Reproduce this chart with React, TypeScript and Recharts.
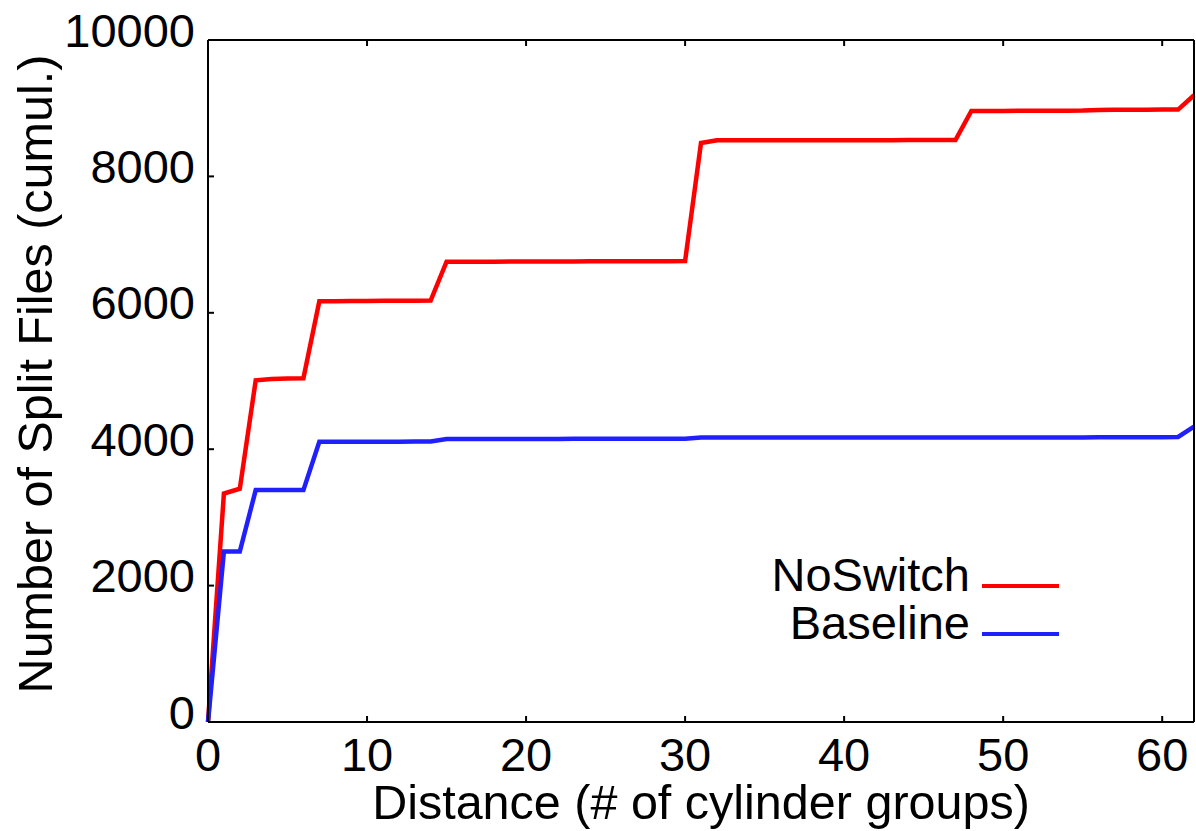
import React from "react";
import {
  LineChart,
  Line,
  XAxis,
  YAxis,
  ReferenceLine,
} from "recharts";

// distance in cylinder groups, 0..62
const distance = [
  0, 1, 2, 3, 4, 5, 6, 7, 8, 9, 10, 11, 12, 13, 14, 15, 16, 17, 18, 19, 20,
  21, 22, 23, 24, 25, 26, 27, 28, 29, 30, 31, 32, 33, 34, 35, 36, 37, 38, 39,
  40, 41, 42, 43, 44, 45, 46, 47, 48, 49, 50, 51, 52, 53, 54, 55, 56, 57, 58,
  59, 60, 61, 62,
];

const noSwitch = [
  0, 3350, 3420, 5010, 5030, 5035, 5040, 6170, 6170, 6172, 6174, 6175, 6176,
  6178, 6180, 6750, 6750, 6750, 6750, 6752, 6752, 6752, 6753, 6754, 6755,
  6755, 6756, 6756, 6757, 6757, 6758, 8490, 8530, 8530, 8530, 8530, 8530,
  8530, 8530, 8530, 8530, 8530, 8531, 8531, 8532, 8532, 8533, 8533, 8960,
  8960, 8960, 8962, 8962, 8963, 8964, 8965, 8975, 8976, 8977, 8978, 8980,
  8980, 9190,
];

const baseline = [
  0, 2500, 2500, 3400, 3400, 3400, 3400, 4110, 4110, 4110, 4110, 4110, 4110,
  4112, 4112, 4150, 4150, 4150, 4150, 4150, 4151, 4151, 4151, 4152, 4152,
  4152, 4153, 4153, 4153, 4154, 4154, 4170, 4170, 4170, 4170, 4170, 4170,
  4170, 4170, 4170, 4170, 4170, 4170, 4170, 4171, 4171, 4171, 4171, 4172,
  4172, 4172, 4172, 4172, 4173, 4173, 4173, 4174, 4174, 4174, 4175, 4175,
  4180, 4330,
];

const xTicks = [0, 10, 20, 30, 40, 50, 60];
const yTicks = [0, 2000, 4000, 6000, 8000, 10000];

const series = [
  { key: "noSwitch", name: "NoSwitch", color: "#ff0000" },
  { key: "baseline", name: "Baseline", color: "#2020ff" },
];

const data = distance.map((x, i) => ({
  x,
  noSwitch: noSwitch[i],
  baseline: baseline[i],
}));

const font = "'Liberation Sans', Arial, sans-serif";
const fs = 47;
const labelFs = 48.5;
const tickStyle = { fontSize: fs, fill: "#000", fontFamily: font };

export default function App() {
  return (
    <div style={{ position: "absolute", left: 0, top: 0, width: 1196, height: 831, background: "#fff" }}>
      <LineChart
        width={1196}
        height={831}
        data={data}
        margin={{ top: 39, right: 1, bottom: 0, left: 0 }}
      >
        <XAxis
          dataKey="x"
          type="number"
          domain={[0, 62]}
          ticks={xTicks}
          height={109}
          stroke="#000"
          strokeWidth={2}
          tick={tickStyle}
          tickSize={-6}
          tickMargin={22}
          interval={0}
          label={{
            value: "Distance (# of cylinder groups)",
            position: "insideBottom",
            offset: 12,
            style: { fontSize: labelFs, fill: "#000", fontFamily: font },
          }}
        />
        <XAxis
          xAxisId="top"
          orientation="top"
          dataKey="x"
          type="number"
          domain={[0, 62]}
          ticks={xTicks}
          height={1}
          stroke="#000"
          strokeWidth={2}
          tickSize={-6}
          tickFormatter={() => ""}
        />
        <YAxis
          type="number"
          domain={[0, 10000]}
          ticks={yTicks}
          width={208}
          stroke="#000"
          strokeWidth={2}
          tick={{ ...tickStyle, dy: -10 }}
          tickSize={-6}
          tickMargin={19}
          interval={0}
          label={{
            value: "Number of Split Files (cumul.)",
            angle: -90,
            position: "insideLeft",
            offset: 35,
            dy: -7,
            style: {
              fontSize: labelFs,
              fill: "#000",
              fontFamily: font,
              textAnchor: "middle",
            },
          }}
        />
        <YAxis
          yAxisId="right"
          orientation="right"
          type="number"
          domain={[0, 10000]}
          ticks={yTicks}
          width={1}
          stroke="#000"
          strokeWidth={2}
          tickSize={-6}
          tickFormatter={() => ""}
        />
        <ReferenceLine y={10000} stroke="#000" strokeWidth={2} />
        <ReferenceLine x={62} stroke="#000" strokeWidth={2} />
        {series.map((s) => (
          <Line
            key={s.key}
            type="linear"
            dataKey={s.key}
            name={s.name}
            stroke={s.color}
            strokeWidth={4.5}
            dot={false}
            isAnimationActive={false}
          />
        ))}
      </LineChart>
      <div
        style={{
          position: "absolute",
          left: 700,
          top: 551,
          fontFamily: font,
          fontSize: fs,
          lineHeight: "48px",
          color: "#000",
        }}
      >
        {series.map((s) => (
          <div
            key={s.key}
            style={{ display: "flex", justifyContent: "flex-end", alignItems: "center", width: 359, height: 48 }}
          >
            <span>{s.name}</span>
            <div
              style={{
                width: 77,
                height: 4,
                marginLeft: 12,
                marginTop: 22,
                background: s.color,
              }}
            />
          </div>
        ))}
      </div>
    </div>
  );
}
